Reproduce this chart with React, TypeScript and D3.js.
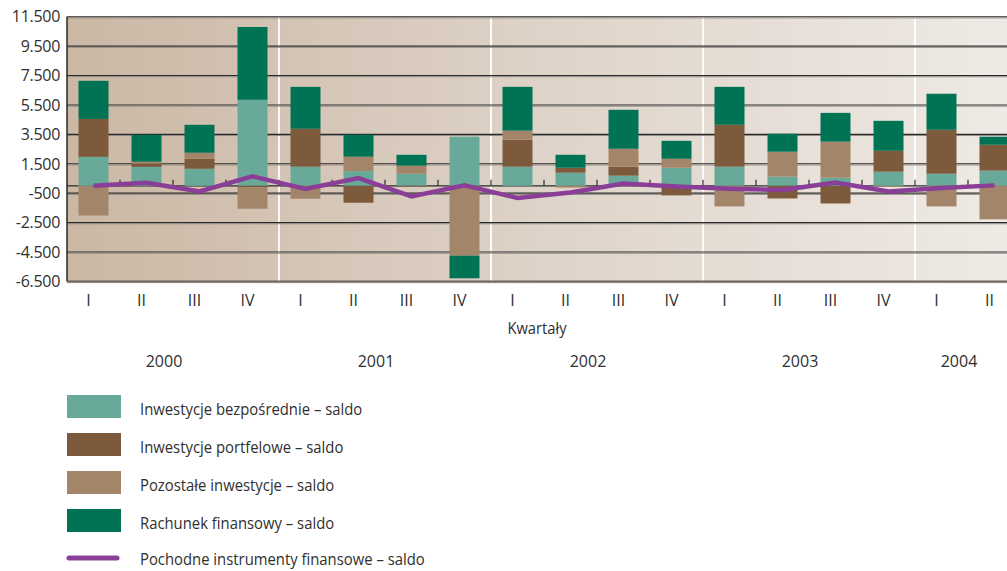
import React from "react";
import * as d3 from "d3";

const quarters = ["I","II","III","IV","I","II","III","IV","I","II","III","IV","I","II","III","IV","I","II"];
const years = ["2000","2001","2002","2003","2004"];
const yearQuarterCount = [4,4,4,4,2];

const bezposrednie = [1970,1290,1160,5850,1300,1000,820,3340,1300,890,690,1230,1300,620,550,960,820,1030];
const portfelowe   = [2580,210,680,-120,2580,-1150,-50,-70,1830,340,610,-650,2850,-860,-1200,1420,2990,1760];
const pozostale    = [-2020,140,410,-1440,-880,980,550,-4680,620,-120,1220,610,-1400,1700,2450,-50,-1400,-2280];
const rachunek     = [2590,1830,1900,4950,2850,1490,740,-1540,2980,880,2650,1220,2580,1220,1960,2040,2450,550];
const pochodne     = [0,210,-380,640,-220,530,-720,30,-830,-450,160,-40,-200,-290,230,-380,-150,30];

const yTicks = [11500,9500,7500,5500,3500,1500,-500,-2500,-4500,-6500];

const seriesNames = [
  "Inwestycje bezpośrednie – saldo",
  "Inwestycje portfelowe – saldo",
  "Pozostałe inwestycje – saldo",
  "Rachunek finansowy – saldo",
  "Pochodne instrumenty finansowe – saldo",
];
const colors = ["#68a99a", "#7d5a3c", "#a3866a", "#007355", "#8b3e97"];

const W = 1007, H = 571;
const L = 67, TOP = 16.7, BOTTOM = 281.4, STEP = 53;
const FONT = "'Open Sans', 'DejaVu Sans', sans-serif";
const TXT = "#2f2f2f";

export default function App() {
  const idx = quarters.map((_, i) => i);
  const x = d3.scaleBand<number>().domain(idx).range([L, L + STEP * quarters.length])
    .paddingInner(0.434).paddingOuter(0.217);
  const y = d3.scaleLinear().domain([-6500, 11500]).range([BOTTOM, TOP]);
  const loc = d3.formatLocale({ decimal: ",", thousands: ".", grouping: [3], currency: ["", ""], minus: "-" });
  const fmt = loc.format(",d");

  const table = idx.map(i => ({ i, a: bezposrednie[i], b: portfelowe[i], c: pozostale[i], d: rachunek[i] }));
  const stack = d3.stack<any>().keys(["a","b","c","d"]).offset(d3.stackOffsetDiverging);
  const layers = stack(table);

  const line = d3.line<number>().x((_, i) => x(i)! + x.bandwidth() / 2).y(v => y(v)).curve(d3.curveLinear);

  let acc = 0;
  const yearSpans = yearQuarterCount.map(c => { const s = acc; acc += c; return [s, acc]; });

  return (
    <svg width={W} height={H} style={{ position: "absolute", left: 0, top: 0, display: "block" }}>
      <defs>
        <linearGradient id="bg" x1="0" x2="1" y1="0" y2="0">
          <stop offset="0" stopColor="#cbb7a4" />
          <stop offset="0.5" stopColor="#ded3c8" />
          <stop offset="1" stopColor="#efeae5" />
        </linearGradient>
      </defs>
      <rect x={0} y={0} width={W} height={H} fill="#fff" />
      <rect x={L} y={TOP} width={W - L} height={BOTTOM - TOP} fill="url(#bg)" />

      {yearSpans.slice(1).map(([s], k) => {
        const xx = L + STEP * s;
        return <line key={"ys" + k} x1={xx} x2={xx} y1={TOP} y2={BOTTOM} stroke="#fff" strokeOpacity={0.9} strokeWidth={2} />;
      })}

      {yTicks.map(t => (
        <g key={"g" + t}>
          <line x1={L} x2={W} y1={y(t)} y2={y(t)} stroke="#2a2a2a" strokeWidth={1.1} />
          <line x1={L} x2={W} y1={y(t) + 1.2} y2={y(t) + 1.2} stroke="#8f8a85" strokeWidth={1} />
        </g>
      ))}

      <line x1={L} x2={W} y1={y(0)} y2={y(0)} stroke="#2a2a2a" strokeWidth={1.2} />
      {idx.slice(1).map(i => {
        const xx = L + STEP * i;
        return <line key={"t" + i} x1={xx} x2={xx} y1={y(0) - 6} y2={y(0)} stroke="#2a2a2a" strokeWidth={1.2} />;
      })}

      {layers.map((layer, k) => (
        <g key={"l" + k} fill={colors[k]}>
          {layer.map((d, i) => (
            <rect key={i} x={x(i)} width={x.bandwidth()} y={y(Math.max(d[0], d[1]))}
              height={Math.abs(y(d[0]) - y(d[1]))} />
          ))}
        </g>
      ))}

      <path d={line(pochodne) || ""} fill="none" stroke={colors[4]} strokeWidth={4.5} strokeLinejoin="miter" />

      <line x1={L} x2={L} y1={TOP} y2={BOTTOM} stroke="#2a2a2a" strokeWidth={1.5} />
      <line x1={L} x2={W} y1={BOTTOM} y2={BOTTOM} stroke="#6f6a66" strokeWidth={1.5} />

      {yTicks.map(t => (
        <text key={"yl" + t} x={60} y={y(t)} dy="0.36em" textAnchor="end" fontFamily={FONT} fontSize={16} fill={TXT}
          letterSpacing={-0.3}>{fmt(t)}</text>
      ))}

      {quarters.map((q, i) => (
        <text key={"q" + i} x={x(i)! + x.bandwidth() / 2 - 5} y={306} textAnchor="middle" fontFamily={FONT}
          fontSize={16} fill={TXT}>{q}</text>
      ))}

      <text transform="translate(537,334) scale(0.92,1)" textAnchor="middle" fontFamily={FONT} fontSize={16} fill={TXT}>Kwartały</text>

      {years.map((yr, k) => {
        const [s, e] = yearSpans[k];
        const cx = (L + STEP * s + L + STEP * e) / 2 - 9;
        return <text key={yr} x={Math.min(cx, 965)} y={367} textAnchor="middle" fontFamily={FONT} fontSize={16} fill={TXT}>{yr}</text>;
      })}

      {seriesNames.map((name, k) => {
        const top = 395 + k * 38;
        const ty = k < 4 ? top + 20 : 565;
        return (
          <g key={"lg" + k}>
            {k < 4 ? (
              <rect x={67} y={top} width={54} height={23} fill={colors[k]} />
            ) : (
              <line x1={69} x2={117} y1={558} y2={558} stroke={colors[4]} strokeWidth={5} strokeLinecap="round" />
            )}
            <text transform={`translate(140,${ty}) scale(0.9,1)`} fontFamily={FONT} fontSize={16.5} fill={TXT}>{name}</text>
          </g>
        );
      })}
    </svg>
  );
}
